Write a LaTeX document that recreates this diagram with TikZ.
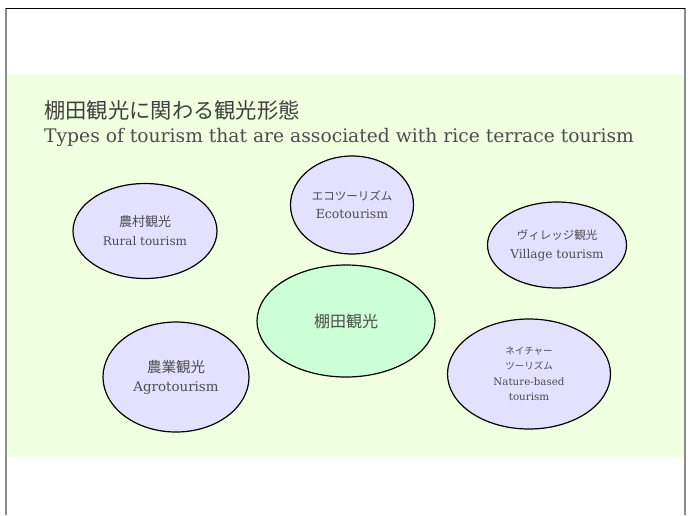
\documentclass[tikz,border=0pt]{standalone}
\usepackage{fontspec}
\setmainfont{DejaVu Serif}
\newfontfamily\jafont{Noto Sans CJK JP}
\usetikzlibrary{shapes.geometric}
\definecolor{bandgreen}{HTML}{F0FFE0}
\definecolor{lavender}{HTML}{E4E0FF}
\definecolor{mintgreen}{HTML}{CCFFD6}
\definecolor{textgray}{HTML}{4D4D4D}
\definecolor{framegray}{HTML}{8C8C8C}

\begin{document}
\begin{tikzpicture}[x=1pt,y=-1pt,
    tourtype/.style={ellipse, draw=black, line width=1.2pt, fill=lavender,
        text=textgray, align=center, inner sep=0pt},
    titletext/.style={text=textgray, inner sep=0pt}]
    \useasboundingbox (0,0) rectangle (695,515);
    \fill[white] (0,0) rectangle (695,515);
    \fill[bandgreen] (6,74) rectangle (685,457);

    \draw[framegray, line width=2pt] (6,8) -- (6,515);
    \draw[framegray, line width=2pt] (685,8) -- (685,515);
    \draw[black, line width=1pt] (6,8) -- (685,8);

    \node[titletext, anchor=west, text=black!75] (titleja) at (44,110)
        {\fontsize{21.3}{24}\selectfont\jafont 棚田観光に関わる観光形態};
    \node[titletext, anchor=base west] (titleen) at (44,142)
        {\fontsize{18.7}{24}\selectfont Types of tourism that are associated with rice terrace tourism};

    \node[tourtype, minimum width=144pt, minimum height=95pt,
        font=\fontsize{12}{19}\selectfont] (rural) at (145,231)
        {{\fontsize{13}{19}\selectfont\jafont 農村観光}\\Rural tourism};
    \node[tourtype, minimum width=123pt, minimum height=98pt,
        font=\fontsize{12.5}{18}\selectfont] (eco) at (352,205)
        {{\fontsize{11.5}{18}\selectfont\jafont エコツーリズム}\\Ecotourism};
    \node[tourtype, minimum width=139pt, minimum height=86pt,
        font=\fontsize{12.1}{19}\selectfont] (village) at (557,245)
        {{\fontsize{11.5}{19}\selectfont\jafont ヴィレッジ観光}\\Village tourism};
    \node[tourtype, fill=mintgreen, minimum width=178pt, minimum height=112pt,
        font=\fontsize{16}{19}\selectfont\jafont] (tanada) at (346,321)
        {棚田観光};
    \node[tourtype, minimum width=146pt, minimum height=110pt,
        font=\fontsize{13.4}{19}\selectfont] (agro) at (176,377)
        {{\fontsize{14.5}{19}\selectfont\jafont 農業観光}\\Agrotourism};
    \node[tourtype, minimum width=163pt, minimum height=110pt,
        font=\fontsize{10.3}{15.5}\selectfont] (nature) at (529,374)
        {{\fontsize{9.5}{15.5}\selectfont\jafont ネイチャー}\\
         {\fontsize{9.5}{15.5}\selectfont\jafont ツーリズム}\\
         Nature-based\\tourism};
\end{tikzpicture}
\end{document}
